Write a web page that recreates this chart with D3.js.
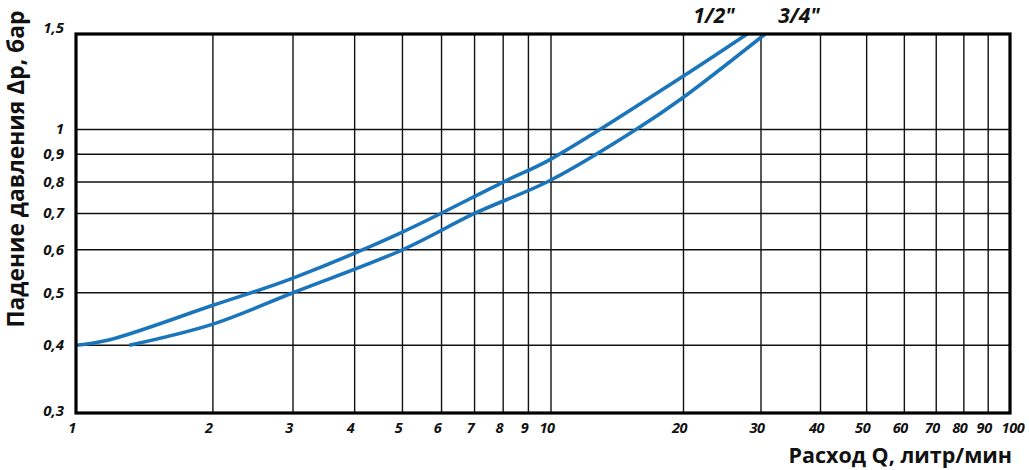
<!DOCTYPE html>
<html><head><meta charset="utf-8">
<script src="https://cdn.jsdelivr.net/npm/d3@7"></script>
<style>body{margin:0;background:#fff}svg{display:block}</style>
</head><body><svg id="c" width="1029" height="470"></svg>
<script>
const xTicks = [1,2,3,4,5,6,7,8,9,10,20,30,40,50,60,70,80,90,100];
const yTicks = [0.3,0.4,0.5,0.6,0.7,0.8,0.9,1,1.5];
const yTickLabels = ["0,3","0,4","0,5","0,6","0,7","0,8","0,9","1","1,5"];
const flowHalf = [1,1.18,2,3,5,8,10,20,27.9];
const dropHalf = [0.4,0.409,0.474,0.532,0.647,0.8,0.882,1.255,1.5];
const flowThreeQ = [1.31,2,3,5,7,10,15.6,20,30.6];
const dropThreeQ = [0.4,0.4376,0.5,0.6,0.7,0.807,1.0,1.147,1.5];
const seriesLabels = ["1/2\"","3/4\""];

const svg = d3.select("#c");
const L=76,R=1010,T=34,B=413;
const x = d3.scaleLog().domain([1,3,10,30,100]).range([L,293,551,761,R]);
const y = d3.scaleLog().domain([0.3,1.5]).range([B,T]);
const font = "'Open Sans', 'DejaVu Sans', sans-serif";

// grid
svg.append("g").selectAll("line").data(xTicks.filter(d=>d>1&&d<100)).join("line")
  .attr("x1",d=>x(d)).attr("x2",d=>x(d)).attr("y1",T).attr("y2",B)
  .attr("stroke","#111").attr("stroke-width",1.4);
svg.append("g").selectAll("line").data(yTicks.filter(d=>d>0.3&&d<1.5)).join("line")
  .attr("y1",d=>y(d)).attr("y2",d=>y(d)).attr("x1",L).attr("x2",R)
  .attr("stroke","#111").attr("stroke-width",1.4);

// curves
svg.append("clipPath").attr("id","cp").append("rect").attr("x",L).attr("y",T).attr("width",R-L).attr("height",B-T);
const line = d3.line().x(d=>x(d[0])).y(d=>y(d[1])).curve(d3.curveCatmullRom.alpha(0.5));
const series = [d3.zip(flowHalf,dropHalf), d3.zip(flowThreeQ,dropThreeQ)];
svg.append("g").attr("clip-path","url(#cp)").selectAll("path").data(series).join("path")
  .attr("d",line).attr("fill","none").attr("stroke","#1b75bb").attr("stroke-width",3.6);

// frame
svg.append("rect").attr("x",L).attr("y",T).attr("width",R-L).attr("height",B-T)
  .attr("fill","none").attr("stroke","#000").attr("stroke-width",3.2);

// tick labels
svg.append("g").selectAll("text").data(xTicks).join("text")
  .attr("x",d=>x(d)-(d===100?-3:4)).attr("y",433).attr("text-anchor","middle")
  .attr("font-family",font).attr("font-weight",700).attr("font-style","italic")
  .attr("font-size",14.5).attr("letter-spacing",-0.4).attr("fill","#111").text(d=>d);
svg.append("g").selectAll("text").data(yTicks).join("text")
  .attr("x",64).attr("y",d=>y(d)+ (d===1.5? -1 : d===0.3? 3 : 5)).attr("text-anchor","end")
  .attr("font-family",font).attr("font-weight",700).attr("font-style","italic")
  .attr("font-size",15).attr("fill","#111").text((d,i)=>yTickLabels[i]);

// series labels
svg.append("g").selectAll("text").data(seriesLabels).join("text")
  .attr("x",(d,i)=>[714,799][i]).attr("y",23).attr("text-anchor","middle")
  .attr("font-family",font).attr("font-weight",700).attr("font-style","italic")
  .attr("font-size",21).attr("fill","#111").text(d=>d);

// axis titles
svg.append("text").attr("x",1012).attr("y",463).attr("text-anchor","end")
  .attr("font-family",font).attr("font-weight",700).attr("font-size",21.5).attr("fill","#111")
  .text("Расход Q, литр/мин");
svg.append("text").attr("transform","translate(24,169) rotate(-90)").attr("text-anchor","middle")
  .attr("font-family",font).attr("font-weight",700).attr("font-size",22.8).attr("fill","#111")
  .text("Падение давления Δр, бар");
</script></body></html>
